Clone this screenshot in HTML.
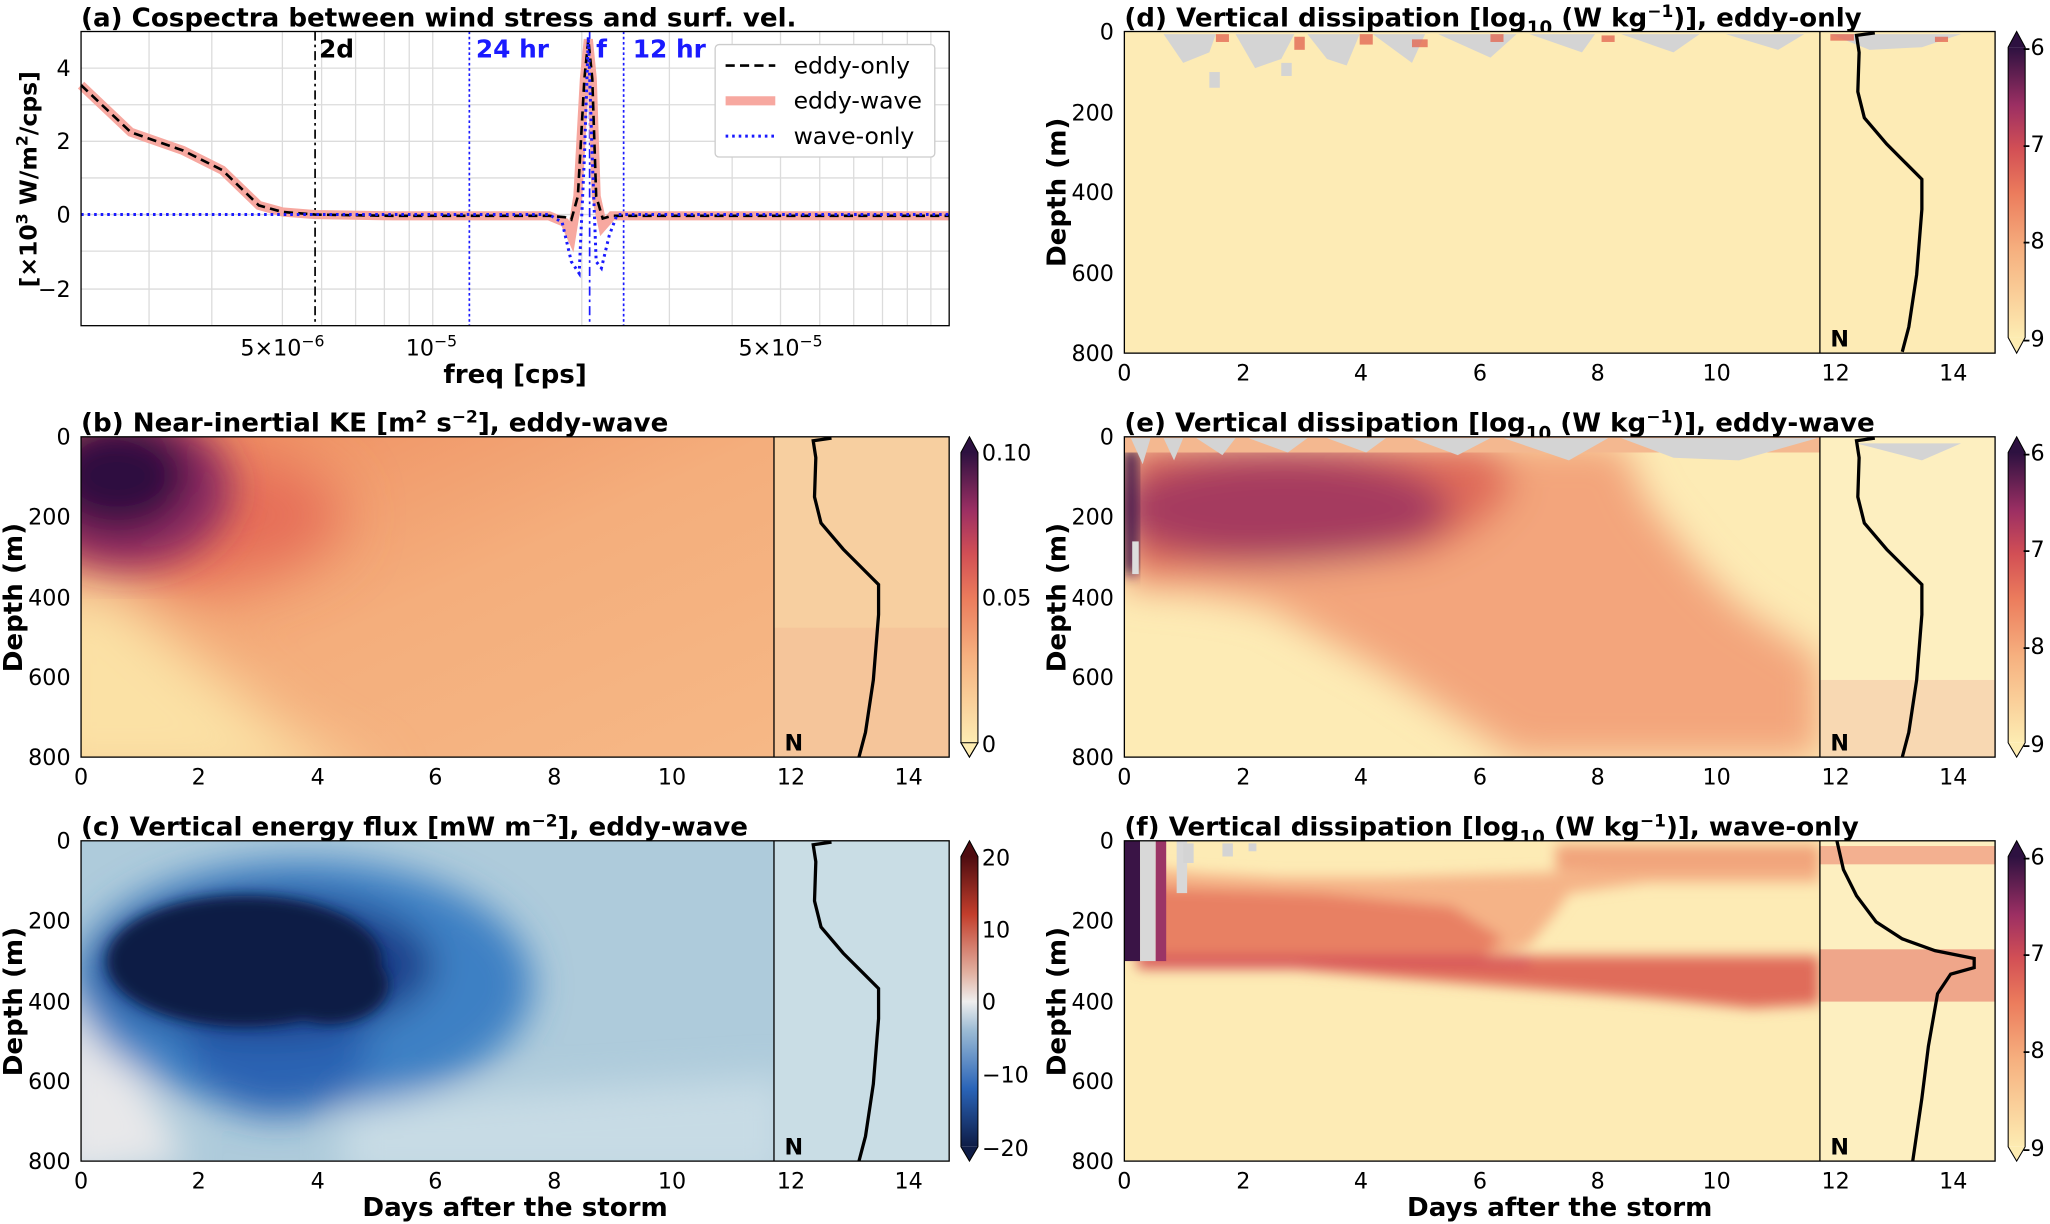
<!DOCTYPE html>
<html><head><meta charset="utf-8"><style>
html,body{margin:0;padding:0;background:#fff}
svg{display:block}
text{font-family:"DejaVu Sans","Liberation Sans",sans-serif;fill:#000}
.t{font-size:20px;font-weight:bold}
.k{font-size:17px}
.lb{font-size:19px;font-weight:bold}
</style></head><body>
<svg width="2050" height="1224" viewBox="0 0 1568 936" xmlns="http://www.w3.org/2000/svg">
<defs>
<filter id="bl" x="-20%" y="-20%" width="140%" height="140%"><feGaussianBlur stdDeviation="14"/></filter>
<filter id="bl2" x="-20%" y="-20%" width="140%" height="140%"><feGaussianBlur stdDeviation="5"/></filter>
<filter id="bl3" x="-50%" y="-50%" width="200%" height="200%"><feGaussianBlur stdDeviation="22"/></filter>
<linearGradient id="mag" x1="0" y1="1" x2="0" y2="0">
<stop offset="0" stop-color="#fdecb2"/><stop offset="0.3" stop-color="#f6b07f"/><stop offset="0.5" stop-color="#eb7b5c"/><stop offset="0.65" stop-color="#d24f55"/><stop offset="0.8" stop-color="#9c2f63"/><stop offset="1" stop-color="#2d1140"/></linearGradient>
<linearGradient id="div" x1="0" y1="1" x2="0" y2="0">
<stop offset="0" stop-color="#0e1c46"/><stop offset="0.2" stop-color="#2a64b8"/><stop offset="0.4" stop-color="#9bbbd4"/><stop offset="0.5" stop-color="#eeeeee"/><stop offset="0.6" stop-color="#e1b0a0"/><stop offset="0.8" stop-color="#c33e2c"/><stop offset="1" stop-color="#4e0c10"/></linearGradient>
<linearGradient id="bbase" x1="0" y1="0" x2="1" y2="1">
<stop offset="0" stop-color="#ee8a5e"/><stop offset="0.5" stop-color="#f4ae7c"/><stop offset="1" stop-color="#f6b886"/></linearGradient>
<polyline id="nprof" fill="none" stroke="#000" stroke-width="2.5" points="636,335 622,337 624,350 623,380 628,400 645,420 660,435 672,447 672,470 668,520 662,560 657,579"/>
</defs>

<!-- ===== Panel (a) ===== -->
<text x="62" y="20" class="t">(a) Cospectra between wind stress and surf. vel.</text>
<rect x="62" y="24" width="664" height="225" fill="#fff"/>
<g stroke="#dcdcdc" stroke-width="1">
<line x1="62" x2="726" y1="52" y2="52"/><line x1="62" x2="726" y1="80" y2="80"/><line x1="62" x2="726" y1="108" y2="108"/><line x1="62" x2="726" y1="136" y2="136"/><line x1="62" x2="726" y1="164" y2="164"/><line x1="62" x2="726" y1="192" y2="192"/><line x1="62" x2="726" y1="221" y2="221"/>
<line x1="114" x2="114" y1="24" y2="249"/><line x1="162" x2="162" y1="24" y2="249"/><line x1="216" x2="216" y1="24" y2="249"/><line x1="246" x2="246" y1="24" y2="249"/><line x1="272" x2="272" y1="24" y2="249"/><line x1="294" x2="294" y1="24" y2="249"/><line x1="313" x2="313" y1="24" y2="249"/><line x1="331" x2="331" y1="24" y2="249"/><line x1="445" x2="445" y1="24" y2="249"/><line x1="512" x2="512" y1="24" y2="249"/><line x1="560" x2="560" y1="24" y2="249"/><line x1="597" x2="597" y1="24" y2="249"/><line x1="627" x2="627" y1="24" y2="249"/><line x1="653" x2="653" y1="24" y2="249"/><line x1="675" x2="675" y1="24" y2="249"/><line x1="694" x2="694" y1="24" y2="249"/><line x1="712" x2="712" y1="24" y2="249"/>
</g>
<line x1="241" x2="241" y1="24" y2="249" stroke="#000" stroke-width="1.3" stroke-dasharray="7,3,2,3"/>
<line x1="359" x2="359" y1="24" y2="249" stroke="#1a1aff" stroke-width="1.3" stroke-dasharray="2,2"/>
<line x1="451" x2="451" y1="24" y2="249" stroke="#1a1aff" stroke-width="1.3" stroke-dasharray="7,3,2,3"/>
<line x1="477" x2="477" y1="24" y2="249" stroke="#1a1aff" stroke-width="1.3" stroke-dasharray="2,2"/>
<text x="244" y="44" class="lb">2d</text>
<text x="364" y="44" class="lb" style="fill:#1a1aff">24 hr</text>
<text x="456" y="44" class="lb" style="fill:#1a1aff">f</text>
<text x="484" y="44" class="lb" style="fill:#1a1aff">12 hr</text>
<polyline fill="none" stroke="#f7a8a0" stroke-width="7" points="62,65 100,101 140,115 170,130 198,157 216,162 241,164 300,165 420,165 432,170 437,181 442,150 447,60 450,30 453,60 456,150 461,173 468,165 726,165"/>
<polyline fill="none" stroke="#000" stroke-width="2" stroke-dasharray="7,4" points="62,65 100,101 140,115 170,130 198,157 216,162 241,164 300,165 420,165 432,166 437,168 442,150 447,60 450,30 453,60 456,150 461,167 468,165 726,165"/>
<polyline fill="none" stroke="#1a1aff" stroke-width="2.3" stroke-dasharray="2,3" points="62,164 420,164 430,170 437,200 443,209 447,120 450,28 453,120 456,200 460,205 466,180 472,164 726,164"/>
<rect x="62" y="24" width="664" height="225" fill="none" stroke="#000" stroke-width="1"/>
<rect x="547" y="34" width="168" height="86" rx="3" fill="#fff" stroke="#ccc"/>
<line x1="555" x2="593" y1="50" y2="50" stroke="#000" stroke-width="2" stroke-dasharray="7,4"/>
<line x1="555" x2="593" y1="77" y2="77" stroke="#f7a8a0" stroke-width="7"/>
<line x1="555" x2="593" y1="104" y2="104" stroke="#1a1aff" stroke-width="2.3" stroke-dasharray="2,3"/>
<text x="607" y="56" class="k" style="font-size:18px">eddy-only</text>
<text x="607" y="83" class="k" style="font-size:18px">eddy-wave</text>
<text x="607" y="110" class="k" style="font-size:18px">wave-only</text>
<g class="k" text-anchor="end">
<text x="54" y="58">4</text><text x="54" y="114">2</text><text x="54" y="170">0</text><text x="54" y="227">−2</text>
</g>
<g class="k" text-anchor="middle">
<text x="216" y="272">5×10<tspan dy="-7" font-size="12">−6</tspan></text>
<text x="330" y="272">10<tspan dy="-7" font-size="12">−5</tspan></text>
<text x="597" y="272">5×10<tspan dy="-7" font-size="12">−5</tspan></text>
</g>
<text x="394" y="293" class="t" text-anchor="middle">freq [cps]</text>
<text transform="translate(28,137) rotate(-90)" class="t" text-anchor="middle" style="font-size:18px">[×10<tspan dy="-7" font-size="12">3</tspan><tspan dy="7"> W/m</tspan><tspan dy="-7" font-size="12">2</tspan><tspan dy="7">/cps]</tspan></text>

<!-- ===== Panel (b) ===== -->
<text x="62" y="330" class="t">(b) Near-inertial KE [m<tspan dy="-7" font-size="13">2</tspan><tspan dy="7"> s</tspan><tspan dy="-7" font-size="13">−2</tspan><tspan dy="7">], eddy-wave</tspan></text>
<svg x="62" y="334" width="530" height="245" overflow="hidden">
<rect width="530" height="245" fill="url(#bbase)"/>
<g filter="url(#bl3)">
<polygon points="-40,110 20,110 90,170 160,230 230,270 -40,270" fill="#fbe1a5"/>
<ellipse cx="60" cy="60" rx="140" ry="55" fill="#e66e58"/>
</g>
<g filter="url(#bl)">
<ellipse cx="35" cy="40" rx="80" ry="60" fill="#8d2a62"/>
<ellipse cx="28" cy="30" rx="55" ry="42" fill="#2d1140"/>
</g>
</svg>
<rect x="592" y="334" width="134" height="245" fill="#f7cfa0"/>
<rect x="592" y="480" width="134" height="99" fill="#f5c59a"/>
<use href="#nprof"/>
<rect x="62" y="334" width="664" height="245" fill="none" stroke="#000"/>
<line x1="592" x2="592" y1="334" y2="579" stroke="#000"/>
<text x="600" y="574" class="lb" style="font-size:17px">N</text>

<!-- ===== Panel (c) ===== -->
<text x="62" y="639" class="t">(c) Vertical energy flux [mW m<tspan dy="-7" font-size="13">−2</tspan><tspan dy="7">], eddy-wave</tspan></text>
<svg x="62" y="643" width="530" height="245" overflow="hidden">
<rect width="530" height="245" fill="#aecbdb"/>
<g filter="url(#bl)">
<polygon points="-20,120 30,150 80,245 -20,260" fill="#e8e8ea"/>
<polygon points="200,200 540,180 540,260 200,260" fill="#c7dbe5"/>
<ellipse cx="170" cy="110" rx="175" ry="95" fill="#3c80c4"/>
<ellipse cx="150" cy="160" rx="70" ry="50" fill="#2b63b3"/>
<ellipse cx="140" cy="95" rx="130" ry="55" fill="#1d3f8a"/>
</g>
<g filter="url(#bl2)">
<ellipse cx="125" cy="92" rx="105" ry="50" fill="#101d44"/>
<ellipse cx="190" cy="110" rx="45" ry="30" fill="#101d44"/>
</g>
</svg>
<rect x="592" y="643" width="134" height="245" fill="#c9dde5"/>
<use href="#nprof" transform="translate(0,309)"/>
<rect x="62" y="643" width="664" height="245" fill="none" stroke="#000"/>
<line x1="592" x2="592" y1="643" y2="888" stroke="#000"/>
<text x="600" y="883" class="lb" style="font-size:17px">N</text>

<!-- left column axes -->
<g class="k" text-anchor="end">
<text x="54" y="340">0</text><text x="54" y="401">200</text><text x="54" y="463">400</text><text x="54" y="524">600</text><text x="54" y="585">800</text>
<text x="54" y="649">0</text><text x="54" y="710">200</text><text x="54" y="772">400</text><text x="54" y="833">600</text><text x="54" y="894">800</text>
</g>
<g class="k" text-anchor="middle">
<text x="62" y="600">0</text><text x="152" y="600">2</text><text x="243" y="600">4</text><text x="333" y="600">6</text><text x="424" y="600">8</text><text x="514" y="600">10</text><text x="605" y="600">12</text><text x="695" y="600">14</text>
<text x="62" y="909">0</text><text x="152" y="909">2</text><text x="243" y="909">4</text><text x="333" y="909">6</text><text x="424" y="909">8</text><text x="514" y="909">10</text><text x="605" y="909">12</text><text x="695" y="909">14</text>
</g>
<text transform="translate(17,457) rotate(-90)" class="t" text-anchor="middle">Depth (m)</text>
<text transform="translate(17,766) rotate(-90)" class="t" text-anchor="middle">Depth (m)</text>
<text x="394" y="930" class="t" text-anchor="middle">Days after the storm</text>

<!-- colorbars left -->
<rect x="735" y="346" width="13" height="222" fill="url(#mag)"/>
<polygon points="735,346 748,346 741.5,334" fill="#2d1140"/>
<polygon points="735,568 748,568 741.5,579" fill="#fdecb2" stroke="#000" stroke-width="0.8"/>
<polygon points="741.5,334 748,346 748,568 741.5,579 735,568 735,346" fill="none" stroke="#000" stroke-width="0.8"/>
<text x="751" y="352" class="k">0.10</text><text x="751" y="463" class="k">0.05</text><text x="751" y="575" class="k">0</text>
<rect x="735" y="655" width="13" height="222" fill="url(#div)"/>
<polygon points="735,655 748,655 741.5,643" fill="#4e0c10"/>
<polygon points="735,877 748,877 741.5,888" fill="#0e1c46"/>
<polygon points="741.5,643 748,655 748,877 741.5,888 735,877 735,655" fill="none" stroke="#000" stroke-width="0.8"/>
<text x="751" y="662" class="k">20</text><text x="751" y="717" class="k">10</text><text x="751" y="772" class="k">0</text><text x="751" y="828" class="k">−10</text><text x="751" y="884" class="k">−20</text>

<!-- ===== Panel (d) ===== -->
<text x="860" y="20" class="t">(d) Vertical dissipation [log<tspan dy="6" font-size="14">10</tspan><tspan dy="-6"> (W kg</tspan><tspan dy="-7" font-size="13">−1</tspan><tspan dy="7">)], eddy-only</tspan></text>
<rect x="860" y="24" width="666" height="246" fill="#fdebb5"/>
<g fill="#d4d4d4">
<path d="M890,26 L930,26 L925,40 L905,48 Z"/><path d="M945,26 L990,26 L980,45 L960,52 Z"/><path d="M1000,26 L1040,26 L1030,50 L1015,45 Z"/><path d="M1050,26 L1090,26 L1080,48 Z"/><path d="M1100,26 L1160,26 L1140,44 Z"/><path d="M1170,26 L1220,26 L1210,40 Z"/><path d="M1240,26 L1300,26 L1280,40 Z"/><path d="M1320,26 L1380,26 L1360,38 Z"/><path d="M1400,26 L1500,26 L1470,36 L1430,38 Z"/>
<rect x="925" y="55" width="8" height="12"/><rect x="980" y="48" width="8" height="10"/>
</g>
<g fill="#e36a55" opacity="0.8">
<rect x="930" y="26" width="10" height="6"/><rect x="990" y="28" width="8" height="10"/><rect x="1040" y="26" width="10" height="8"/><rect x="1080" y="30" width="12" height="6"/><rect x="1140" y="26" width="10" height="6"/><rect x="1225" y="27" width="10" height="5"/><rect x="1400" y="26" width="18" height="5"/><rect x="1480" y="28" width="10" height="4"/>
</g>
<use href="#nprof" transform="translate(798,-310)"/>
<rect x="860" y="24" width="666" height="246" fill="none" stroke="#000"/>
<line x1="1392" x2="1392" y1="24" y2="270" stroke="#000"/>
<text x="1400" y="265" class="lb" style="font-size:17px">N</text>

<!-- ===== Panel (e) ===== -->
<text x="860" y="330" class="t">(e) Vertical dissipation [log<tspan dy="6" font-size="14">10</tspan><tspan dy="-6"> (W kg</tspan><tspan dy="-7" font-size="13">−1</tspan><tspan dy="7">)], eddy-wave</tspan></text>
<svg x="860" y="334" width="532" height="245" overflow="hidden">
<rect width="532" height="245" fill="#fdebb5"/>
<g filter="url(#bl)">
<polygon points="0,5 380,5 400,50 440,100 470,130 532,170 532,245 440,245 300,245 200,180 110,130 60,120 0,115" fill="#f3a57c"/>
<polygon points="0,5 280,5 300,40 270,70 230,90 100,100 0,105" fill="#e06c5a"/>
<ellipse cx="120" cy="55" rx="130" ry="42" fill="#a53a5f"/>
</g>
<rect x="0" y="10" width="10" height="95" fill="#3a1446" filter="url(#bl2)"/>
<rect x="6" y="80" width="5" height="25" fill="#ddd"/>
<rect x="0" y="0" width="532" height="12" fill="#f4b890"/>
</svg>
<rect x="1392" y="334" width="134" height="245" fill="#fdefc0"/>
<rect x="1392" y="520" width="134" height="59" fill="#f8d8b2"/>
<g fill="#d4d4d4">
<path d="M865,335 L880,335 L874,355 Z"/><path d="M890,335 L905,335 L898,352 Z"/><path d="M915,335 L945,335 L935,348 Z"/><path d="M955,335 L1000,335 L985,346 Z"/><path d="M1015,335 L1060,335 L1045,346 Z"/><path d="M1080,335 L1140,335 L1115,348 Z"/><path d="M1150,335 L1230,335 L1200,352 Z"/><path d="M1240,335 L1390,335 L1330,352 L1280,350 Z"/><path d="M1420,339 L1500,339 L1470,352 Z"/>
</g>
<use href="#nprof" transform="translate(798,0)"/>
<rect x="860" y="334" width="666" height="245" fill="none" stroke="#000"/>
<line x1="1392" x2="1392" y1="334" y2="579" stroke="#000"/>
<text x="1400" y="574" class="lb" style="font-size:17px">N</text>

<!-- ===== Panel (f) ===== -->
<text x="860" y="639" class="t">(f) Vertical dissipation [log<tspan dy="6" font-size="14">10</tspan><tspan dy="-6"> (W kg</tspan><tspan dy="-7" font-size="13">−1</tspan><tspan dy="7">)], wave-only</tspan></text>
<svg x="860" y="643" width="532" height="245" overflow="hidden">
<rect width="532" height="245" fill="#fdebb5"/>
<g filter="url(#bl2)">
<polygon points="10,20 60,25 120,28 200,28 300,25 532,18 532,32 400,32 340,40 330,55 310,80 280,92 10,92" fill="#f5b387"/>
<polygon points="10,35 150,40 250,50 290,75 270,92 10,92" fill="#e88064"/>
<rect x="330" y="3" width="202" height="20" fill="#f1a47c"/>
<polygon points="10,88 532,88 532,125 480,128 400,120 300,112 200,104 130,98 10,98" fill="#e06c5a"/>
<rect x="10" y="88" width="300" height="8" fill="#d5505a"/>
</g>
<rect x="0" y="0" width="12" height="92" fill="#3a1446"/>
<rect x="12" y="0" width="12" height="92" fill="#d8d8d8"/>
<rect x="24" y="0" width="8" height="92" fill="#9b3566"/>
<rect x="40" y="0" width="8" height="40" fill="#d8d8d8"/>
</svg>
<rect x="1392" y="643" width="134" height="245" fill="#fdefc0"/>
<rect x="1392" y="647" width="134" height="14" fill="#f3b090"/>
<rect x="1392" y="726" width="134" height="40" fill="#efa68a"/>
<g fill="#d4d4d4"><rect x="905" y="645" width="8" height="15"/><rect x="935" y="645" width="8" height="10"/><rect x="955" y="645" width="6" height="6"/></g>
<polyline fill="none" stroke="#000" stroke-width="2.5" points="1405,643 1410,665 1420,685 1435,705 1455,718 1480,727 1500,731 1510,733 1510,740 1492,745 1482,760 1475,800 1470,840 1463,888"/>
<rect x="860" y="643" width="666" height="245" fill="none" stroke="#000"/>
<line x1="1392" x2="1392" y1="643" y2="888" stroke="#000"/>
<text x="1400" y="883" class="lb" style="font-size:17px">N</text>

<!-- right column axes -->
<g class="k" text-anchor="end">
<text x="852" y="30">0</text><text x="852" y="92">200</text><text x="852" y="153">400</text><text x="852" y="215">600</text><text x="852" y="276">800</text>
<text x="852" y="340">0</text><text x="852" y="401">200</text><text x="852" y="463">400</text><text x="852" y="524">600</text><text x="852" y="585">800</text>
<text x="852" y="649">0</text><text x="852" y="710">200</text><text x="852" y="772">400</text><text x="852" y="833">600</text><text x="852" y="894">800</text>
</g>
<g class="k" text-anchor="middle">
<text x="860" y="291">0</text><text x="951" y="291">2</text><text x="1041" y="291">4</text><text x="1132" y="291">6</text><text x="1222" y="291">8</text><text x="1313" y="291">10</text><text x="1404" y="291">12</text><text x="1494" y="291">14</text>
<text x="860" y="600">0</text><text x="951" y="600">2</text><text x="1041" y="600">4</text><text x="1132" y="600">6</text><text x="1222" y="600">8</text><text x="1313" y="600">10</text><text x="1404" y="600">12</text><text x="1494" y="600">14</text>
<text x="860" y="909">0</text><text x="951" y="909">2</text><text x="1041" y="909">4</text><text x="1132" y="909">6</text><text x="1222" y="909">8</text><text x="1313" y="909">10</text><text x="1404" y="909">12</text><text x="1494" y="909">14</text>
</g>
<text transform="translate(815,147) rotate(-90)" class="t" text-anchor="middle">Depth (m)</text>
<text transform="translate(815,457) rotate(-90)" class="t" text-anchor="middle">Depth (m)</text>
<text transform="translate(815,766) rotate(-90)" class="t" text-anchor="middle">Depth (m)</text>
<text x="1193" y="930" class="t" text-anchor="middle">Days after the storm</text>

<!-- colorbars right -->
<g>
<rect x="1536" y="36" width="13" height="222" fill="url(#mag)"/>
<polygon points="1536,36 1549,36 1542.5,24" fill="#2d1140"/><polygon points="1536,258 1549,258 1542.5,270" fill="#fdecb2"/>
<polygon points="1542.5,24 1549,36 1549,258 1542.5,270 1536,258 1536,36" fill="none" stroke="#000" stroke-width="0.8"/>
<text x="1547" y="42" class="k">-6</text><text x="1547" y="116" class="k">-7</text><text x="1547" y="190" class="k">-8</text><text x="1547" y="265" class="k">-9</text>
</g>
<g>
<rect x="1536" y="346" width="13" height="222" fill="url(#mag)"/>
<polygon points="1536,346 1549,346 1542.5,334" fill="#2d1140"/><polygon points="1536,568 1549,568 1542.5,579" fill="#fdecb2"/>
<polygon points="1542.5,334 1549,346 1549,568 1542.5,579 1536,568 1536,346" fill="none" stroke="#000" stroke-width="0.8"/>
<text x="1547" y="352" class="k">-6</text><text x="1547" y="426" class="k">-7</text><text x="1547" y="500" class="k">-8</text><text x="1547" y="575" class="k">-9</text>
</g>
<g>
<rect x="1536" y="655" width="13" height="222" fill="url(#mag)"/>
<polygon points="1536,655 1549,655 1542.5,643" fill="#2d1140"/><polygon points="1536,877 1549,877 1542.5,888" fill="#fdecb2"/>
<polygon points="1542.5,643 1549,655 1549,877 1542.5,888 1536,877 1536,655" fill="none" stroke="#000" stroke-width="0.8"/>
<text x="1547" y="661" class="k">-6</text><text x="1547" y="735" class="k">-7</text><text x="1547" y="809" class="k">-8</text><text x="1547" y="884" class="k">-9</text>
</g>
</svg>
</body></html>
